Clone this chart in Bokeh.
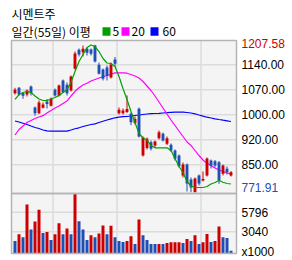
from bokeh.plotting import figure
from bokeh.models import ColumnDataSource, Range1d
from bokeh.core.properties import value
from bokeh.embed import file_html
from bokeh.resources import INLINE

title = "시멘트주"
subtitle = "일간(55일) 이평"
ma_names = ["5", "20", "60"]

opens = [1064.5, 1080.4, 1064.5, 1060.6, 1084.3, 1022.2, 1005.4, 1021.3, 1039.9, 1027.2,
         1074.5, 1056.8, 1102.0, 1089.3, 1072.5, 1136.6, 1192.8, 1185.7, 1195.7, 1193.7,
         1205.5, 1148.4, 1134.5, 1140.4, 1110.9, 1164.1, 1005.4, 1005.4, 1008.9, 1003.6,
         976.4, 1018.4, 880.3, 902.5, 919.6, 909.9, 931.5, 944.5, 914.9, 912.0,
         895.1, 880.3, 821.2, 853.7, 809.4, 771.91, 821.2, 806.4, 821.2, 865.5,
         863.5, 860.5, 826.2, 841.0, 821.2]
closes = [1074.5, 1060.6, 1056.8, 1072.5, 1064.5, 1005.4, 1037.0, 1031.1, 1032.6, 1047.9,
          1057.7, 1087.2, 1067.4, 1064.5, 1113.8, 1181.8, 1178.9, 1195.7, 1183.9, 1180.9,
          1158.2, 1121.8, 1107.0, 1115.3, 1149.3, 1151.4, 1015.4, 1013.3, 1017.8, 978.8,
          988.2, 936.5, 933.5, 929.7, 900.1, 921.7, 949.2, 924.7, 931.5, 895.1,
          870.6, 848.7, 853.7, 797.6, 785.7, 812.3, 797.6, 810.9, 871.5, 850.8,
          850.8, 806.4, 850.8, 831.0, 831.0]
highs = [1080.4, 1082.8, 1067.4, 1075.4, 1087.2, 1025.2, 1042.9, 1037.0, 1047.3, 1051.8,
         1078.4, 1090.2, 1105.0, 1096.1, 1116.8, 1187.7, 1196.6, 1205.5, 1199.6, 1196.6,
         1207.58, 1155.2, 1137.5, 1146.4, 1155.2, 1171.5, 1022.2, 1019.3, 1057.7, 1007.4,
         995.6, 1022.2, 936.5, 933.5, 924.7, 924.7, 954.2, 948.3, 936.5, 915.8,
         898.1, 883.3, 859.6, 856.7, 815.3, 815.3, 824.2, 833.0, 874.4, 868.5,
         867.0, 864.1, 853.7, 847.8, 834.5]
lows = [1060.6, 1056.8, 1047.9, 1054.7, 1057.7, 997.7, 1003.0, 1019.3, 1019.3, 1025.2,
        1054.7, 1054.7, 1065.1, 1057.7, 1069.5, 1134.5, 1173.0, 1173.0, 1175.9, 1175.9,
        1155.2, 1119.8, 1102.0, 1102.0, 1107.9, 1141.9, 1001.5, 1001.5, 1006.0, 969.9,
        972.0, 933.5, 877.4, 898.1, 895.1, 904.0, 927.6, 921.7, 911.4, 890.7,
        865.5, 844.9, 815.3, 773.9, 771.91, 771.91, 791.6, 803.5, 818.2, 841.9,
        844.9, 796.7, 821.2, 824.2, 818.2]
volumes = [1760, 2690, 2270, 6900, 3380, 4490, 6160, 2870, 3010, 1900,
           2690, 4260, 2690, 3520, 2690, 8430, 4540, 3380, 1900, 2550,
           2270, 2820, 3940, 2690, 3890, 2270, 1760, 1620, 1760, 2410,
           1340, 4770, 2550, 1900, 1340, 1320, 1350, 1330, 1480, 1570,
           1580, 1590, 1480, 2040, 1760, 2550, 1340, 1570, 2730, 1620,
           1760, 3800, 2270, 2180, 370]
ma5 = [1045.9, 1060.6, 1066.6, 1069.5, 1066.6, 1056.2, 1047.3, 1042.9, 1042.9, 1047.3,
       1051.8, 1057.7, 1066.6, 1075.4, 1096.1, 1128.6, 1158.2, 1178.9, 1199.6, 1207.0,
       1202.5, 1187.7, 1167.1, 1153.8, 1152.3, 1143.4, 1113.8, 1078.4, 1045.9, 1010.4,
       977.9, 945.4, 932.1, 926.1, 909.9, 903.1, 903.1, 903.1, 903.1, 895.1,
       871.5, 847.8, 830.1, 803.5, 790.2, 785.7, 785.7, 785.7, 788.7, 796.1,
       800.5, 806.4, 801.4, 797.6, 796.1]
ma20 = [940.9, 957.2, 967.5, 977.9, 983.8, 989.7, 994.1, 998.0, 1006.0, 1013.3,
        1020.7, 1026.6, 1034.0, 1041.4, 1056.2, 1070.1, 1080.7, 1088.7, 1094.0, 1100.5,
        1105.0, 1109.4, 1113.0, 1116.8, 1120.4, 1124.5, 1124.8, 1124.5, 1123.6, 1119.8,
        1115.3, 1109.4, 1099.1, 1085.8, 1072.5, 1056.2, 1038.5, 1020.7, 1003.0, 985.3,
        969.0, 952.7, 936.5, 920.2, 909.9, 895.1, 880.3, 867.0, 857.6, 850.8,
        843.4, 837.5, 833.0, 828.6, 826.2]
ma60 = [982.3, 979.4, 975.8, 972.0, 967.5, 963.1, 960.1, 955.7, 953.3, 952.2,
        952.2, 952.2, 952.2, 952.2, 955.7, 959.3, 962.2, 966.0, 969.0, 972.0,
        974.0, 977.9, 981.7, 985.3, 988.8, 991.8, 993.5, 995.0, 995.6, 997.1,
        998.6, 1000.0, 1001.5, 1003.0, 1003.9, 1004.5, 1005.1, 1006.0, 1006.8, 1008.0,
        1008.3, 1008.3, 1008.3, 1007.4, 1006.0, 1003.6, 1000.0, 996.5, 993.5, 991.2,
        988.8, 986.7, 984.7, 982.9, 980.8]
price_grid = [1148.4, 1074.5, 1000.6, 926.7, 852.8]
price_labels = ["1140.00", "1070.00", "1000.00", "920.00", "850.00"]
vol_grid = [3040, 5796]
vol_labels = ["3040", "5796"]
vol_unit = "x1000"
month_breaks = [9.5, 25.5, 46.5]
price_max = 1207.58
price_min = 771.91

UP = "#cc0000"
DOWN = "#1f4fb4"
BG = "#f4f4f4"
GRID = "#dcdcdc"
FRAME = "#b4b4b4"
MA_COLORS = ["#00a000", "#ff00ff", "#0000ff"]
AXF = value("Liberation Sans")
KF = value("Noto Sans CJK KR")

# panel extents (day-index units / price units / volume units)
XL, XR = -0.875, 55.375
P_BOT, P_TOP = 768.0, 1220.26
V_TOP = 8430
XT = 56.625  # left edge of the right-hand labels

n = len(closes)
idx = list(range(n))
ccol = [UP if c >= o else DOWN for o, c in zip(opens, closes)]
vcol = [DOWN] + [UP if volumes[i] > volumes[i - 1] else DOWN for i in range(1, n)]
src = ColumnDataSource(dict(
    x=idx, o=opens, h=highs, l=lows, c=closes,
    top=[max(a, b) for a, b in zip(opens, closes)],
    bot=[min(a, b) for a, b in zip(opens, closes)],
    col=ccol, vol=volumes, vcol=vcol, ma5=ma5, ma20=ma20, ma60=ma60))

p = figure(width=292, height=260, x_range=Range1d(-3.625, 69.375),
           y_range=Range1d(569.94, 1338.5), output_backend="svg", toolbar_location=None,
           x_axis_location=None, y_axis_location=None,
           min_border_left=0, min_border_right=0, min_border_top=0, min_border_bottom=0,
           outline_line_color=None, background_fill_color="white", border_fill_color="white")
p.xgrid.visible = False
p.ygrid.visible = False
p.extra_y_ranges = {"vol": Range1d(-983.5, 35546.5), "px": Range1d(260, 0)}
p.extra_x_ranges = {"px": Range1d(0, 292)}

# panel backgrounds
p.quad(left=[XL], right=[XR], bottom=[P_BOT], top=[P_TOP], fill_color=BG, line_color=None)
p.quad(left=[XL], right=[XR], bottom=[0], top=[V_TOP], fill_color=BG, line_color=None,
       y_range_name="vol")

# grid lines
p.segment(x0=XL, x1=XR, y0=price_grid, y1=price_grid, line_color=GRID, line_width=1.5)
p.segment(x0=month_breaks, x1=month_breaks, y0=P_BOT, y1=P_TOP, line_color=GRID, line_width=1.5)
p.segment(x0=XL, x1=XR, y0=vol_grid, y1=vol_grid, line_color=GRID, line_width=1.5,
          y_range_name="vol")
p.segment(x0=month_breaks, x1=month_breaks, y0=0, y1=V_TOP, line_color=GRID, line_width=1.5,
          y_range_name="vol")

# price panel
p.line("x", "ma60", source=src, color=MA_COLORS[2], line_width=1.2)
p.line("x", "ma20", source=src, color=MA_COLORS[1], line_width=1.2)
p.segment(x0="x", x1="x", y0="l", y1="h", color="col", line_width=1, source=src)
p.vbar(x="x", width=0.72, top="top", bottom="bot", fill_color="col", line_color=None, source=src)
p.line("x", "ma5", source=src, color=MA_COLORS[0], line_width=1.2)

# volume panel
p.vbar(x="x", width=0.75, top="vol", bottom=0, fill_color="vcol", line_color=None, source=src,
       y_range_name="vol")

# frames
p.quad(left=[XL], right=[XR], bottom=[P_BOT], top=[P_TOP], fill_color=None,
       line_color=FRAME, line_width=1.5)
p.quad(left=[XL], right=[XR], bottom=[0], top=[V_TOP], fill_color=None,
       line_color=FRAME, line_width=1.5, y_range_name="vol")

# right-hand labels
tkw = dict(text_font=AXF, text_font_size="12px", text_baseline="middle", text_align="left")
p.text(x=XT, y=price_grid, text=price_labels, text_color="#000000", **tkw)
p.text(x=[XT], y=[price_max], text=[f"{price_max:.2f}"], text_color="#cc0000", y_offset=-1, **tkw)
p.text(x=[XT], y=[price_min], text=[f"{price_min:.2f}"], text_color="#1f4fb4", y_offset=-5, **tkw)
p.text(x=XT, y=vol_grid, text=vol_labels, text_color="#000000", y_range_name="vol", **tkw)
p.text(x=[XT], y=[0], text=[vol_unit], text_color="#000000", y_offset=-1.5,
       y_range_name="vol", **tkw)

# header
hkw = dict(text_font=KF, text_font_size="12px", text_baseline="middle", text_align="left",
           text_color="#000000", x_range_name="px", y_range_name="px")
p.text(x=[11], y=[13], text=[title], **hkw)
p.text(x=[11], y=[31], text=[subtitle], **hkw)
p.quad(left=[102, 121, 150], right=[110, 129, 158], top=[26.7, 26.7, 26.7],
       bottom=[35.3, 35.3, 35.3], fill_color=MA_COLORS, line_color=None,
       x_range_name="px", y_range_name="px")
p.text(x=[112, 131, 162], y=[31, 31, 31], text=ma_names, **hkw)

open("out.html", "w").write(file_html(p, INLINE))
